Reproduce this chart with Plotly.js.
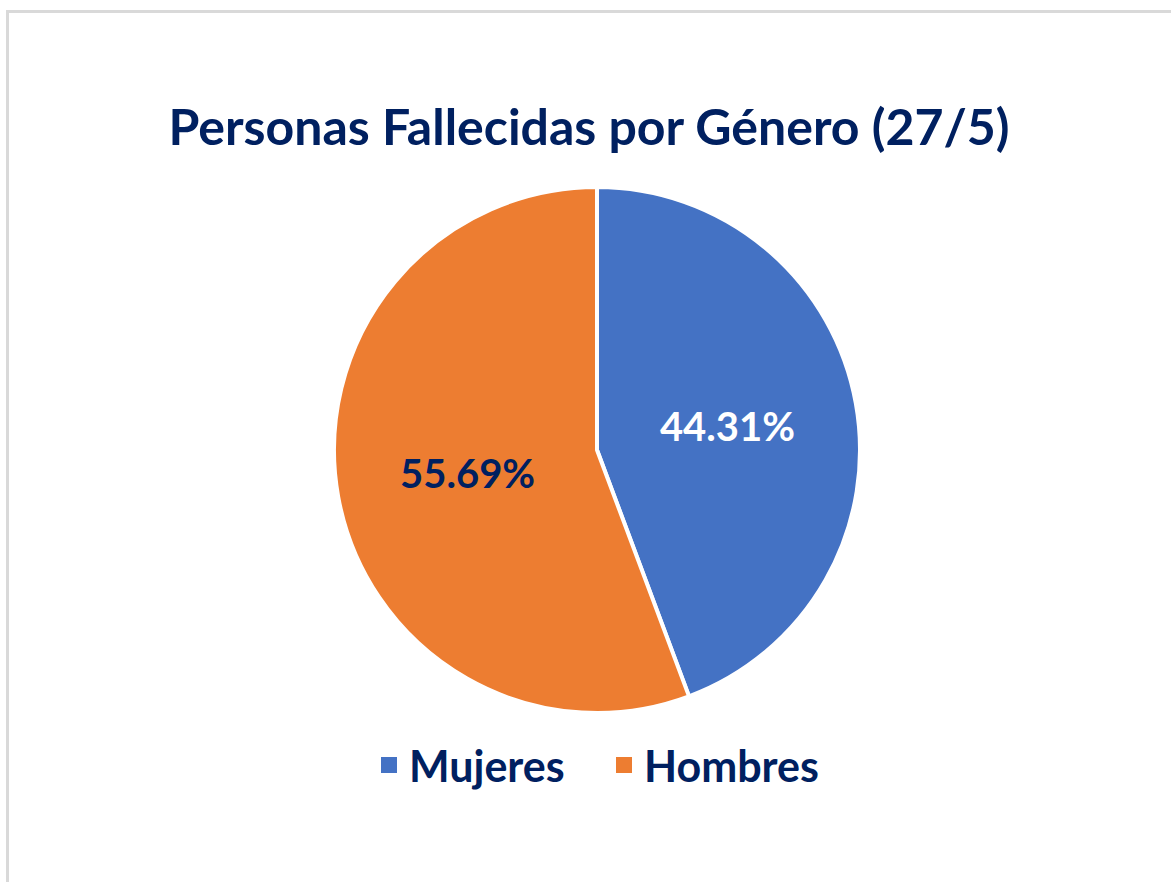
<!DOCTYPE html>
<html>
<head>
<meta charset="utf-8">
<script src="https://cdn.plot.ly/plotly-3.0.1.min.js"></script>
<style>
  html, body { margin: 0; padding: 0; background: #ffffff; }
  #frame { position: absolute; left: 6px; top: 10px; width: 1165px; height: 872px;
           border-left: 3px solid #D9D9D9; border-top: 3px solid #D9D9D9; box-sizing: border-box; }
  #chart { position: absolute; left: 9px; top: 13px; width: 1162px; height: 869px; }
</style>
</head>
<body>
<div id="frame"></div>
<div id="chart"></div>
<script>
const chartTitle = "Personas Fallecidas por Género (27/5)";
const categories = ["Mujeres", "Hombres"];
const percentages = [44.31, 55.69];
const sliceColors = ["#4472C4", "#ED7D31"];
const labelColors = ["#FFFFFF", "#002060"];

const W = 1162, H = 869;
const offX = 9, offY = 13;
const cx = 597 - offX, cy = 450 - offY, R = 263;

const pieTrace = {
  type: "pie",
  labels: categories,
  values: percentages,
  sort: false,
  direction: "clockwise",
  rotation: 0,
  marker: { colors: sliceColors, line: { color: "#FFFFFF", width: 4 } },
  texttemplate: "%{percent:.2%}",
  textposition: "inside",
  insidetextorientation: "horizontal",
  insidetextfont: { family: "Lato", size: 40, color: labelColors, weight: "bold" },
  hoverinfo: "label+percent",
  showlegend: false,
  domain: {
    x: [(cx - R) / W, (cx + R) / W],
    y: [(H - cy - R) / H, (H - cy + R) / H]
  }
};

// legend-only entries (square swatches like the original legend)
const legendTraces = categories.map((name, i) => ({
  type: "scatter",
  mode: "markers",
  name: name,
  x: [null], y: [null],
  marker: { symbol: "square", size: 18, color: sliceColors[i] },
  showlegend: true,
  hoverinfo: "skip"
}));

const layout = {
  width: W, height: H,
  margin: { l: 0, r: 0, t: 0, b: 0 },
  paper_bgcolor: "#FFFFFF",
  plot_bgcolor: "rgba(0,0,0,0)",
  xaxis: { visible: false, fixedrange: true },
  yaxis: { visible: false, fixedrange: true },
  hovermode: false,
  title: {
    text: chartTitle,
    font: { family: "Lato", size: 50, color: "#002060", weight: "bold" },
    x: (589 - offX) / W, xanchor: "center",
    y: 1 - (127 - offY) / H, yanchor: "middle",
    xref: "container", yref: "container"
  },
  showlegend: true,
  legend: {
    orientation: "h",
    x: (604 - offX) / W, xanchor: "center",
    y: (H - (765 - offY)) / H, yanchor: "middle",
    font: { family: "Lato", size: 43, color: "#002060", weight: "bold" },
    itemsizing: "trace",
    itemwidth: 30,
    entrywidth: 190,
    entrywidthmode: "pixels",
    traceorder: "normal",
    bgcolor: "rgba(0,0,0,0)"
  }
};

Plotly.newPlot("chart", [pieTrace, ...legendTraces], layout, { displayModeBar: false, staticPlot: true });
</script>
</body>
</html>
